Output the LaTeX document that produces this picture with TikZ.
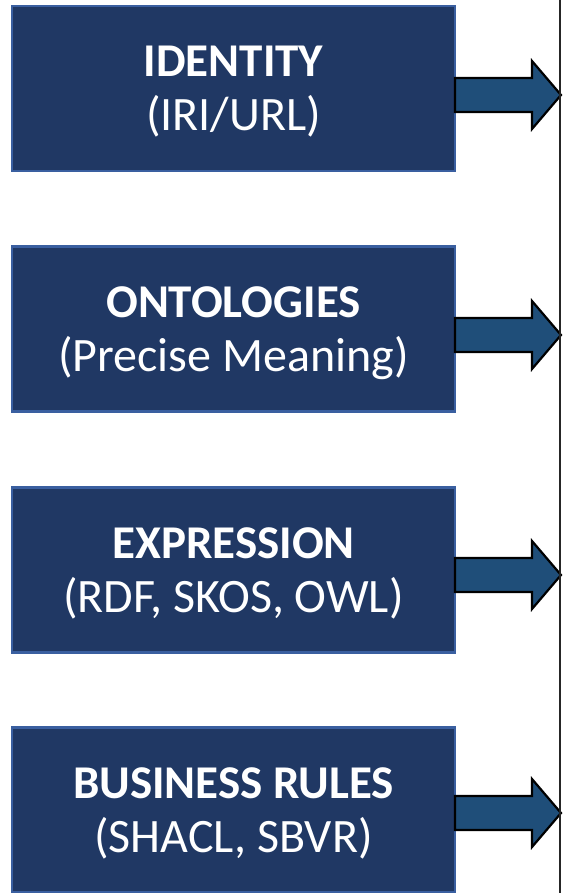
\documentclass[tikz,border=0pt]{standalone}
\usepackage{fontspec}
\setmainfont{Carlito}
\definecolor{boxfill}{HTML}{203864}
\definecolor{boxedge}{HTML}{3A5FA0}
\definecolor{arrfill}{HTML}{1F4E79}
\tikzset{
  box/.style={draw=boxedge, fill=boxfill, line width=2.5pt, minimum width=443pt, minimum height=165pt, inner sep=0pt},
  ttl/.style={text=white, font=\fontsize{47}{54}\selectfont\bfseries, anchor=base, inner sep=0pt},
  sub/.style={text=white, font=\fontsize{48}{54}\selectfont, anchor=base, inner sep=0pt},
  blockarrow/.style={draw=black, fill=arrfill, line width=2.2pt, line join=miter},
}
\begin{document}
\begin{tikzpicture}[x=1pt, y=-1pt]
\useasboundingbox (0,0) rectangle (562,893);
\foreach \i/\cy/\ay/\t/\s in {1/88.5/95/IDENTITY/{(IRI/URL)},2/329/335/ONTOLOGIES/{(Precise Meaning)},3/570/575/EXPRESSION/{(RDF, SKOS, OWL)},4/810/813/BUSINESS RULES/{(SHACL, SBVR)}}{
  \node[box] (b\i) at (233.5,\cy) {};
  \node[ttl] (t\i) at (233.5,\cy-12) {\t};
  \node[sub] (s\i) at (233.5,\cy+42) {\s};
  \draw[blockarrow] (455,\ay-17) -- (532,\ay-17) -- (532,\ay-34) -- (561,\ay) -- (532,\ay+34) -- (532,\ay+17) -- (455,\ay+17) -- cycle;
}
\coordinate (ltop) at (560,0);
\coordinate (lbot) at (560,893);
\draw[line width=1.5pt, black!85] (ltop) -- (lbot);
\end{tikzpicture}
\end{document}
